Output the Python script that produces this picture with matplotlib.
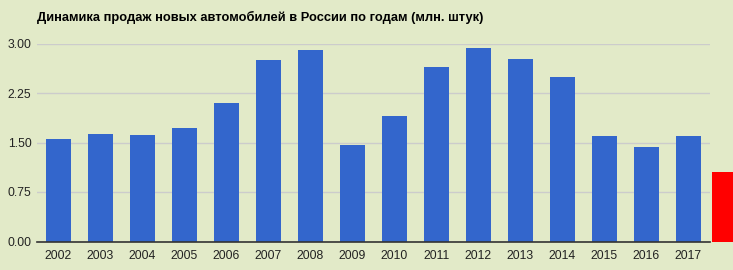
import matplotlib
matplotlib.use('Agg')
import matplotlib.pyplot as plt

years = ['2002', '2003', '2004', '2005', '2006', '2007', '2008', '2009',
         '2010', '2011', '2012', '2013', '2014', '2015', '2016', '2017']
sales = [1.55, 1.626, 1.61, 1.717, 2.095, 2.747, 2.899, 1.459,
         1.898, 2.641, 2.929, 2.762, 2.489, 1.595, 1.429, 1.595]
yticks = [0.0, 0.75, 1.5, 2.25, 3.0]

# red block cut off at the right edge of the picture
extra_value = 1.05

plt.rcParams['font.family'] = ['Liberation Sans', 'DejaVu Sans']

bg = '#e2eac8'
fig = plt.figure(figsize=(7.33, 2.70), dpi=100, facecolor=bg)
ax = fig.add_axes([37 / 733, 28.5 / 270, 673 / 733, 198 / 270])
ax.set_facecolor(bg)

x = list(range(len(years)))
ax.bar(x, sales, width=0.6, color='#3366cc', zorder=3)
ax.bar([15.81], [extra_value], width=0.5, color='#ff0000', zorder=3, clip_on=False)

ax.set_xlim(-0.512, 15.512)
ax.set_ylim(0, 3.0)
ax.set_xticks(x)
ax.set_xticklabels(years)
ax.set_yticks(yticks)
ax.set_yticklabels(['%.2f' % v for v in yticks])
ax.tick_params(axis='both', length=0, labelsize=8.8, colors='#222222')
ax.tick_params(axis='x', pad=6)
ax.tick_params(axis='y', pad=4)
ax.grid(axis='y', color='#cccccc', linewidth=1, zorder=0)
for side in ['top', 'right', 'left']:
    ax.spines[side].set_visible(False)
ax.spines['bottom'].set_color('#333333')
ax.spines['bottom'].set_linewidth(1.2)
ax.spines['bottom'].set_zorder(4)

fig.text(37 / 733, 1 - 17 / 270, 'Динамика продаж новых автомобилей в России по годам (млн. штук)',
         fontsize=9.3, fontweight='bold', color='#000000', va='center', ha='left')

plt.savefig('out.png', dpi=100, facecolor=bg)
